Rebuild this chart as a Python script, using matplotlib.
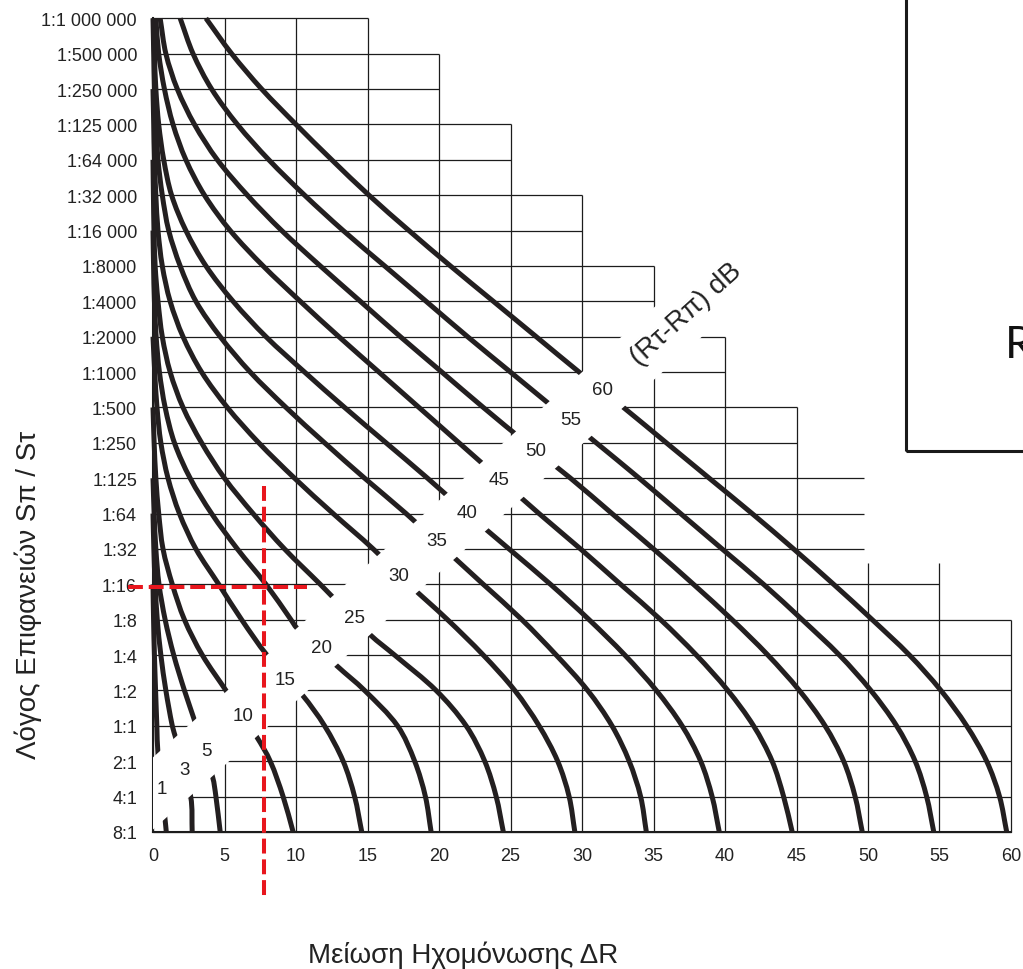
import numpy as np
import matplotlib
matplotlib.use('Agg')
import matplotlib.pyplot as plt
from matplotlib.path import Path
from matplotlib.patches import PathPatch, Polygon, Rectangle

plt.rcParams['font.family'] = ['Liberation Sans', 'DejaVu Sans']

# y axis: area ratio Sπ/Sτ, one grid row per step (row 0 = 8:1 at the bottom)
ratio_labels = ['8:1', '4:1', '2:1', '1:1', '1:2', '1:4', '1:8', '1:16', '1:32',
                '1:64', '1:125', '1:250', '1:500', '1:1000', '1:2000', '1:4000',
                '1:8000', '1:16 000', '1:32 000', '1:64 000', '1:125 000',
                '1:250 000', '1:500 000', '1:1 000 000']
dr_ticks = list(range(0, 61, 5))

# stair-step outline of the grid
row_end = [60, 60, 60, 60, 60, 60, 60, 55, 49.7, 49.7, 49.7, 45, 45, 40, 40,
           35, 35, 30, 30, 25, 25, 20, 20, 15]
col_top = [23, 23, 23, 23, 22, 20, 18, 16, 14, 12, 7.6, 7.6, 6]

# curves (Rτ-Rπ) = const, read as (row, ΔR) from top to bottom
c1 = [(7, 0.0), (6, 0.04), (5, 0.1), (4, 0.18), (3, 0.27), (2.2, 0.35), (0.37, 0.84), (0, 0.93)]
c3 = [(9, 0.0), (8, 0.06), (7, 0.15), (6, 0.3), (5, 0.55), (4, 0.9), (3, 1.35), (2.63, 1.61),
      (0.99, 2.64), (0, 2.74)]
c5 = [(10, 0.0), (9, 0.08), (8, 0.2), (7, 0.42), (6, 0.85), (5, 1.45), (4, 2.2), (3.11, 2.94),
      (1.55, 4.17), (1, 4.4), (0, 4.7)]
c10 = [(12, 0.0), (11, 0.08), (10, 0.2), (9, 0.4), (8, 0.7), (7, 1.35), (6, 2.2), (5, 3.45),
       (3.96, 5.17), (2.69, 7.25), (2, 8.2), (1, 9.1), (0, 9.8)]
c15 = [(14, 0.0), (13, 0.12), (12, 0.28), (11, 0.55), (10, 1.05), (9, 1.85), (8, 3.0), (7, 4.6),
       (6, 6.2), (5, 7.97), (3.87, 10.45), (3, 12.0), (2, 13.3), (1, 14.1), (0, 14.6)]
c20 = [(17, 0.0), (16, 0.04), (15, 0.1), (14, 0.22), (13, 0.45), (12, 0.85), (11, 1.5), (10, 2.6),
       (9, 4.1), (8, 5.9), (7, 7.9), (6, 9.65), (5.77, 10.05), (4.7, 12.85), (4, 14.8), (3, 17.1),
       (2, 18.3), (1, 19.05), (0, 19.45)]
c25 = [(19, 0.0), (18, 0.03), (17, 0.07), (16, 0.15), (15, 0.35), (14, 0.65), (13, 1.2), (12, 2.1),
       (11, 3.4), (10, 5.0), (9, 7.0), (8, 9.2), (7, 11.7), (6.64, 12.57), (5.57, 15.2), (5, 16.9),
       (4, 19.8), (3, 21.9), (2, 23.2), (1, 24.0), (0, 24.5)]
c30 = [(21, 0.0), (20, 0.05), (19, 0.1), (18, 0.2), (17, 0.35), (16, 0.65), (15, 1.2), (14, 2.1),
       (13, 3.4), (12, 5.2), (11, 7.4), (10, 9.9), (9, 12.6), (8, 15.4), (7, 17.9), (6, 20.6),
       (5, 23.1), (4, 25.3), (3, 27.0), (2, 28.3), (1, 29.1), (0, 29.5)]
c35 = [(23, 0.0), (22, 0.05), (21, 0.1), (20, 0.2), (19, 0.35), (18, 0.65), (17, 1.1), (16, 1.9),
       (15, 3.0), (14, 4.7), (13, 6.8), (12, 9.3), (11, 12.0), (10, 14.8), (9, 17.7), (8, 20.4),
       (7, 23.1), (6, 25.8), (5, 28.2), (4, 30.4), (3, 32.1), (2, 33.3), (1, 34.1), (0, 34.5)]
c40 = [(23, 0.05), (22, 0.1), (21, 0.2), (20, 0.4), (19, 0.75), (18, 1.3), (17, 2.3), (16, 3.7),
       (15, 5.6), (14, 7.9), (13, 10.6), (12, 13.4), (11, 16.3), (10, 19.2), (9, 22.0), (8, 24.9),
       (7, 27.8), (6, 30.5), (5, 33.0), (4, 35.2), (3, 37.0), (2, 38.3), (1, 39.1), (0, 39.6)]
c45 = [(23, 0.2), (22, 0.4), (21, 0.8), (20, 1.4), (19, 2.3), (18, 3.6), (17, 5.4), (16, 7.7),
       (15, 10.3), (14, 13.0), (13, 15.8), (12, 18.6), (11, 21.4), (10, 24.2), (9, 27.0), (8, 29.9),
       (7, 32.7), (6, 35.5), (5, 38.0), (4, 40.2), (3, 42.0), (2, 43.3), (1, 44.1), (0, 44.7)]
c50 = [(23, 0.5), (22, 0.9), (21, 1.7), (20, 2.9), (19, 4.5), (18, 6.6), (17, 9.0), (16, 11.7),
       (15, 14.5), (14, 17.3), (13, 20.2), (12, 23.1), (11, 26.1), (10, 29.2), (9, 32.1), (8, 35.0),
       (7, 37.8), (6, 40.5), (5, 43.0), (4, 45.2), (3, 47.0), (2, 48.3), (1, 49.1), (0, 49.6)]
c55 = [(23, 1.9), (22, 2.8), (21, 4.1), (20, 5.9), (19, 8.1), (18, 10.6), (17, 13.3), (16, 16.2),
       (15, 19.1), (14, 22.0), (13, 25.0), (12, 28.0), (11, 31.0), (10, 34.0), (9, 36.9), (8, 39.8),
       (7, 42.7), (6, 45.4), (5, 48.0), (4, 50.2), (3, 52.0), (2, 53.3), (1, 54.1), (0, 54.6)]
c60 = [(23, 3.7), (22, 5.5), (21, 7.6), (20, 10.0), (19, 12.5), (18, 15.1), (17, 17.9), (16, 20.8),
       (15, 23.8), (14, 26.8), (13, 29.8), (12, 32.9), (11, 35.9), (10, 38.9), (9, 41.9), (8, 44.8),
       (7, 47.6), (6, 50.3), (5, 52.9), (4, 55.1), (3, 56.9), (2, 58.3), (1, 59.2), (0, 59.7)]

curve_ids = [1, 3, 5, 10, 15, 20, 25, 30, 35, 40, 45, 50, 55, 60]
curves = [c1, c3, c5, c10, c15, c20, c25, c30, c35, c40, c45, c50, c55, c60]
# where each curve number is written (ΔR, row)
label_pos = [(0.61, 1.22), (2.19, 1.76), (3.76, 2.30), (6.31, 3.29), (9.23, 4.32), (11.80, 5.22),
             (14.06, 6.07), (17.22, 7.26), (19.84, 8.23), (21.94, 9.04), (24.22, 9.95),
             (26.78, 10.78), (29.21, 11.67), (31.45, 12.52)]

# worked example (red dashed guides)
example_dr = 7.76
example_row = 6.93

INK = '#231f20'


def smooth_path(pts, sx=14.3, sy=35.4):
    # cubic bezier through the read points (chord-length hermite)
    p = np.array([(dr * sx, row * sy) for row, dr in pts])
    d = np.linalg.norm(np.diff(p, axis=0), axis=1)
    m = np.zeros_like(p)
    m[0] = (p[1] - p[0]) / d[0]
    m[-1] = (p[-1] - p[-2]) / d[-1]
    for i in range(1, len(p) - 1):
        m[i] = (p[i + 1] - p[i - 1]) / (d[i - 1] + d[i])
    verts = [p[0]]
    codes = [Path.MOVETO]
    for i in range(len(p) - 1):
        verts += [p[i] + m[i] * d[i] / 3, p[i + 1] - m[i + 1] * d[i] / 3, p[i + 1]]
        codes += [Path.CURVE4] * 3
    verts = np.array(verts)
    verts[:, 0] /= sx
    verts[:, 1] /= sy
    return Path(verts, codes)


fig = plt.figure(figsize=(10.23, 9.70), dpi=100)
ax = fig.add_axes([153 / 1023, 137 / 970, 858 / 1023, 813.7 / 970])
ax.set_xlim(0, 60)
ax.set_ylim(0, 23)
for s in ax.spines.values():
    s.set_visible(False)
ax.set_xticks(dr_ticks)
ax.set_yticks(range(len(ratio_labels)))
ax.set_yticklabels(ratio_labels)
ax.tick_params(length=0, labelsize=13, colors='#222222')
ax.tick_params(axis='x', pad=10.5)
ax.tick_params(axis='y', pad=11.5)

# grid
for row, end in enumerate(row_end):
    ax.plot([0, end], [row, row], color='#1c1c1c', lw=0.9, zorder=1, clip_on=False,
            solid_capstyle='butt')
for x, top in zip(dr_ticks, col_top):
    ax.plot([x, x], [0, top], color='#1c1c1c', lw=0.9, zorder=1, clip_on=False,
            solid_capstyle='butt')
ax.plot([0, 0], [0, 23], color='#1c1c1c', lw=1.5, zorder=1, clip_on=False)
ax.plot([0, 60], [0, 0], color='#1c1c1c', lw=1.5, zorder=1, clip_on=False)

# curves
for pts in curves:
    ax.add_patch(PathPatch(smooth_path(pts), fill=False, edgecolor=INK, lw=3.6,
                           capstyle='butt', joinstyle='round', zorder=2, clip_on=False))

# white diagonal band carrying the curve numbers
ax.add_patch(Polygon([(-3.5, 0.84), (-0.99, -0.29), (42.71, 15.57), (40.20, 16.70)],
                     closed=True, facecolor='white', edgecolor='none', zorder=3))

for d, (x, y) in zip(curve_ids, label_pos):
    ax.text(x, y, str(d), ha='center', va='center', fontsize=13.5, color='#222222', zorder=4)
ax.text(37.32, 14.64, '(Rτ-Rπ) dB', rotation=42, rotation_mode='anchor', ha='center',
        va='center', fontsize=20, color='#222222', zorder=4)

# red dashed guides
red = '#e8161d'
ax.plot([example_dr, example_dr], [9.78, -1.81], color=red, lw=2.9, ls=(0, (3.7, 1.45)),
        zorder=5, clip_on=False)
ax.plot([-1.75, 10.8], [example_row, example_row], color=red, lw=2.9, ls=(0, (3.7, 1.45)),
        zorder=5, clip_on=False)

fig.text(463.5 / 1023, 1 - 963 / 970, 'Μείωση Ηχομόνωσης ΔR', ha='center', va='baseline',
         fontsize=20, color='#222222')
fig.text(28 / 1023, 1 - 595 / 970, 'Λόγος Επιφανειών Sπ / Sτ', rotation=90, ha='center',
         va='center', fontsize=20, color='#222222')

# part of the neighbouring figure box
fig.add_artist(Rectangle((906 / 1023, 1 - 452 / 970), 0.3, 0.6, transform=fig.transFigure,
                         fill=False, edgecolor='#1a1a1a', lw=2.2, clip_on=False))
fig.text(1005 / 1023, 1 - 345 / 970, 'R', ha='left', va='center', fontsize=32,
         family='Lato', color='#111111')

plt.savefig('out.png', dpi=100)
